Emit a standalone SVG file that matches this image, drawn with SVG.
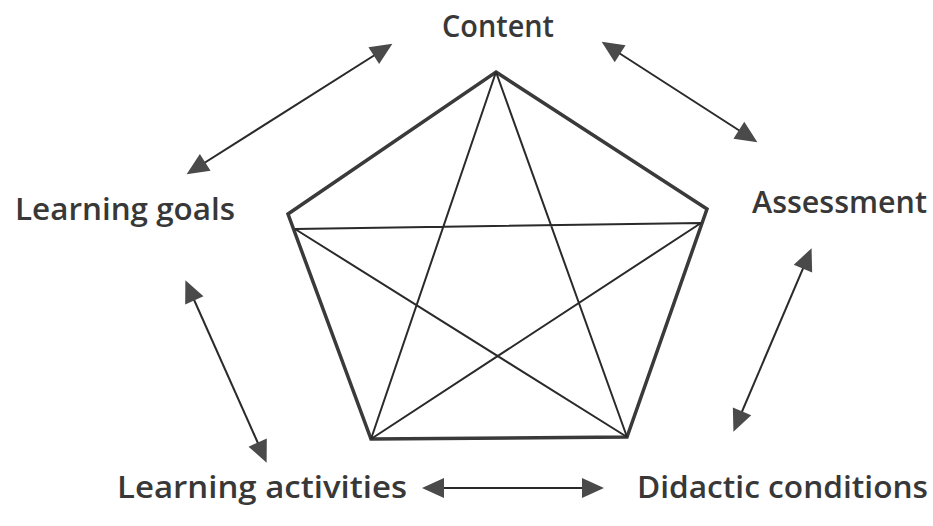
<svg xmlns="http://www.w3.org/2000/svg" width="933" height="526" viewBox="0 0 933 526">
  <style>
    .lbl { font-family: "Open Sans", "Liberation Sans", Arial, sans-serif; font-weight: 600; font-size: 31px; fill: #383838; }
    .outer { fill: none; stroke: #3a3a3a; stroke-width: 3.5; stroke-linejoin: miter; }
    .inner { fill: none; stroke: #2a2a2a; stroke-width: 2; }
    .conn { stroke: #2a2a2a; stroke-width: 2; fill: none; marker-start: url(#ah); marker-end: url(#ah); }
  </style>
  <defs>
    <marker id="ah" markerUnits="userSpaceOnUse" markerWidth="22" markerHeight="20" refX="18" refY="10" orient="auto-start-reverse" overflow="visible">
      <path d="M0,0 L22,10 L0,20 z" fill="#4a4a4a"/>
    </marker>
  </defs>
  <rect width="933" height="526" fill="#ffffff"/>

  <g id="pentagon">
    <polygon class="outer" points="496,72 707,209 627,437 371,439 288,214"/>
    <path class="inner" d="M496,72 L371,439 M496,72 L627,437 M295,229 L701,223 M295,229 L627,437 M701,223 L371,439"/>
  </g>

  <g id="node-content"><text class="lbl" x="498" y="37" text-anchor="middle" textLength="112" lengthAdjust="spacingAndGlyphs">Content</text></g>
  <g id="node-learning-goals"><text class="lbl" x="15" y="220" textLength="220" lengthAdjust="spacingAndGlyphs">Learning goals</text></g>
  <g id="node-assessment"><text class="lbl" x="752" y="213" textLength="175" lengthAdjust="spacingAndGlyphs">Assessment</text></g>
  <g id="node-learning-activities"><text class="lbl" x="117" y="498" textLength="290" lengthAdjust="spacingAndGlyphs">Learning activities</text></g>
  <g id="node-didactic-conditions"><text class="lbl" x="637" y="498" textLength="291" lengthAdjust="spacingAndGlyphs">Didactic conditions</text></g>

  <g id="connectors">
    <line class="conn" x1="190" y1="172" x2="389" y2="46"/>
    <line class="conn" x1="605" y1="44" x2="754" y2="140"/>
    <line class="conn" x1="187" y1="284" x2="265" y2="459"/>
    <line class="conn" x1="810" y1="252" x2="735" y2="428"/>
    <line class="conn" x1="426" y1="488" x2="600" y2="488"/>
  </g>
</svg>
